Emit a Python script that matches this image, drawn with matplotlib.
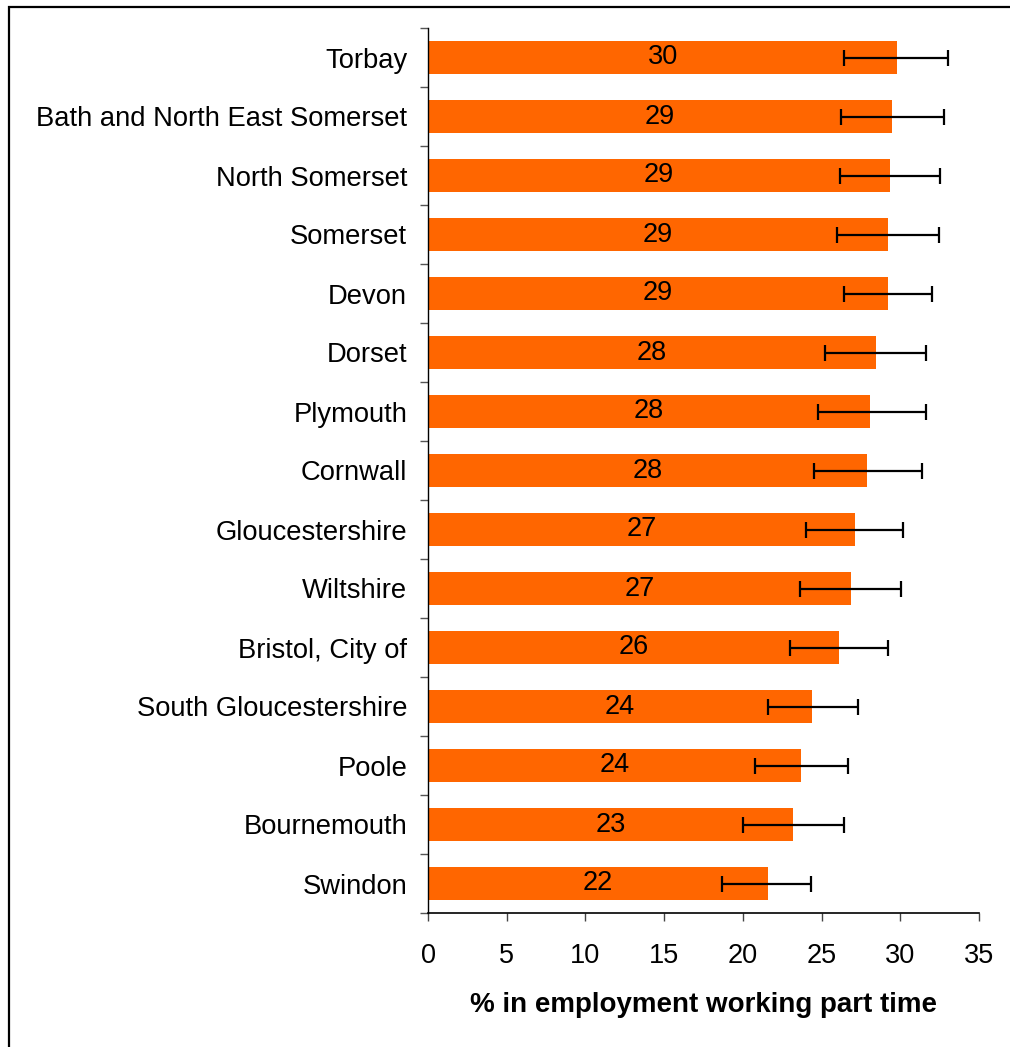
import matplotlib
matplotlib.use("Agg")
import matplotlib.pyplot as plt
import numpy as np
from matplotlib.patches import Rectangle

categories = ["Torbay", "Bath and North East Somerset", "North Somerset", "Somerset",
              "Devon", "Dorset", "Plymouth", "Cornwall", "Gloucestershire", "Wiltshire",
              "Bristol, City of", "South Gloucestershire", "Poole", "Bournemouth", "Swindon"]
values = [29.8, 29.45, 29.35, 29.2, 29.2, 28.45, 28.1, 27.9, 27.1, 26.85,
          26.1, 24.4, 23.7, 23.2, 21.6]
ci_low = [26.4, 26.25, 26.15, 26.0, 26.4, 25.2, 24.8, 24.55, 24.0, 23.6,
          23.0, 21.6, 20.75, 20.0, 18.65]
ci_high = [33.0, 32.75, 32.55, 32.45, 32.0, 31.65, 31.65, 31.4, 30.2, 30.05,
           29.2, 27.3, 26.65, 26.4, 24.35]
xticks = [0, 5, 10, 15, 20, 25, 30, 35]
xlabel = "% in employment working part time"

plt.rcParams['font.family'] = ['Liberation Sans', 'DejaVu Sans']

W, H = 1010, 1047
fig = plt.figure(figsize=(W / 100, H / 100), dpi=100)
ax = fig.add_axes([428 / W, (H - 913) / H, (979 - 428) / W, (913 - 28) / H])

y = np.arange(len(categories))
vals = np.array(values)
err = np.vstack([vals - np.array(ci_low), np.array(ci_high) - vals])

ax.barh(y, vals, height=0.57, color="#FF6600", zorder=2)
ax.errorbar(vals, y, xerr=err, fmt="none", ecolor="black", elinewidth=1.6,
            capsize=5.5, capthick=1.6, zorder=3)

for yi, v in zip(y, vals):
    ax.text(v / 2, yi, f"{v:.0f}", ha="center", va="center", fontsize=19.5,
            color="black", zorder=4)

ax.set_xlim(0, 35)
ax.set_ylim(len(categories) - 0.5, -0.5)
ax.set_xticks(xticks)
ax.set_xticklabels([str(t) for t in xticks], fontsize=19.5)
ax.set_yticks(y)
ax.set_yticklabels(categories, fontsize=19.75)
ax.set_yticks(np.arange(-0.5, len(categories) + 0.5, 1.0), minor=True)

ax.tick_params(axis="y", which="major", length=0, pad=15)
ax.tick_params(axis="y", which="minor", length=5.5, width=1, color="#555555", direction="out")
ax.tick_params(axis="x", which="major", length=6, width=1, color="#444444", direction="out", pad=15.5)

for s in ["top", "right"]:
    ax.spines[s].set_visible(False)
ax.spines["left"].set_linewidth(1.0)
ax.spines["bottom"].set_linewidth(1.2)

ax.set_xlabel(xlabel, fontsize=20, fontweight="bold", labelpad=17)

fig.add_artist(Rectangle((9 / W, -0.1), 1.2, (H - 7) / H + 0.1, transform=fig.transFigure,
                         fill=False, lw=1.6, ec="black"))

fig.savefig("out.png", dpi=100)
